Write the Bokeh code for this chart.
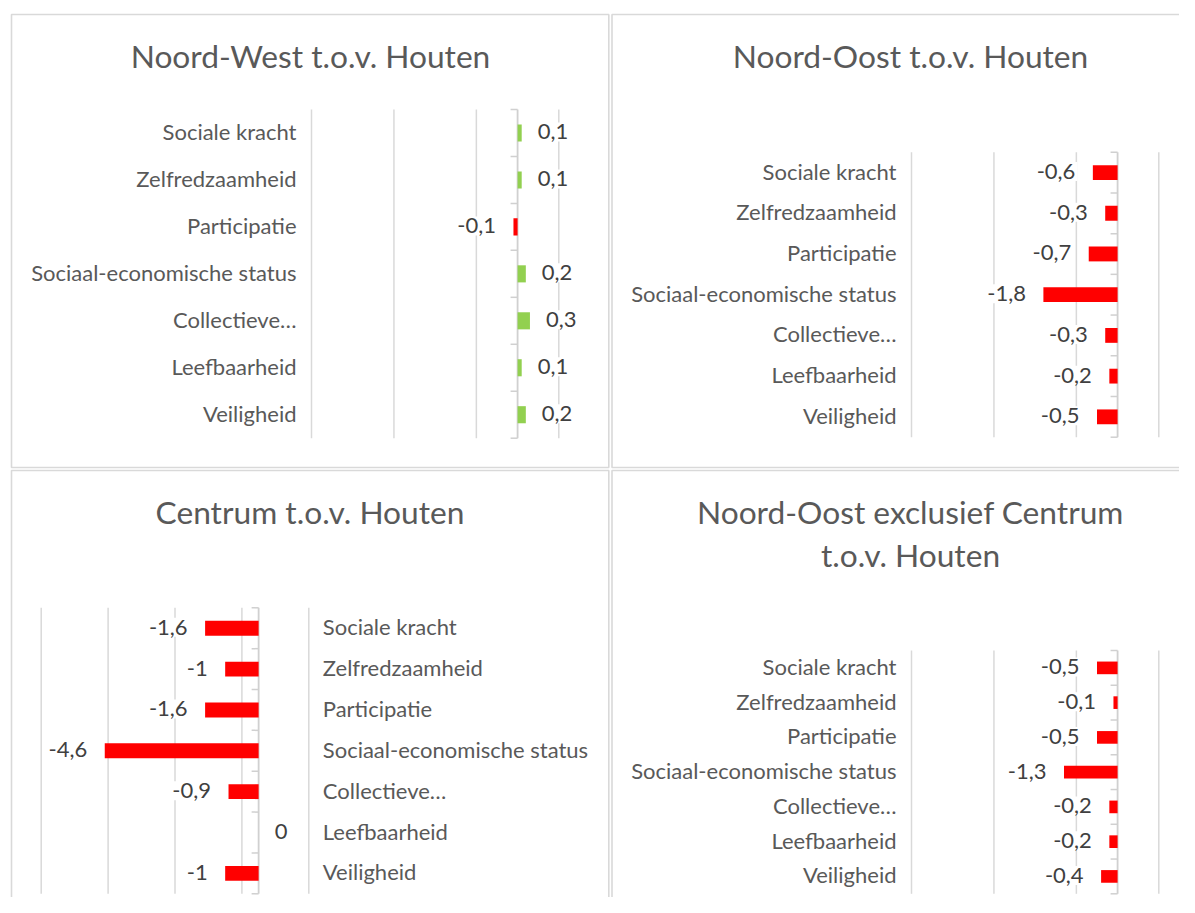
from bokeh.plotting import figure
from bokeh.models import ColumnDataSource, Range1d
from bokeh.core.properties import value
from bokeh.embed import file_html
from bokeh.resources import INLINE

# ---------------- data ----------------
categories = ["Sociale kracht", "Zelfredzaamheid", "Participatie",
              "Sociaal-economische status", "Collectieve…", "Leefbaarheid",
              "Veiligheid"]

titles = [["Noord-West t.o.v. Houten"],
          ["Noord-Oost t.o.v. Houten"],
          ["Centrum t.o.v. Houten"],
          ["Noord-Oost exclusief Centrum", "t.o.v. Houten"]]

noord_west = [0.1, 0.1, -0.1, 0.2, 0.3, 0.1, 0.2]
noord_oost = [-0.6, -0.3, -0.7, -1.8, -0.3, -0.2, -0.5]
centrum = [-1.6, -1, -1.6, -4.6, -0.9, 0, -1]
noord_oost_excl = [-0.5, -0.1, -0.5, -1.3, -0.2, -0.2, -0.4]

x_ranges = [(-5, 1), (-5, 1), (-6.5, 1.5), (-5, 1)]
grid_ticks = [[-5, -3, -1, 1], [-5, -3, -1, 1],
              [-6.5, -4.5, -2.5, -0.5, 1.5], [-5, -3, -1, 1]]

# ---------------- style / layout ----------------
W, H = 1179, 897
GREEN = "#92d050"
RED = "#ff0000"
FONT = "Lato"
GRID = "#d9d9d9"
AXIS = "#d0d0d0"

# plot-area boxes (left, right, top, bottom) in page pixels, label side,
# panel border box, title centre x and line centres
panels = [
    dict(values=noord_west, area=(311, 558.3, 109, 437.7), side="left",
         box=(11, 608.3, 14, 467), tx=310, tys=[55.3]),
    dict(values=noord_oost, area=(911, 1158.3, 151.7, 436.7), side="left",
         box=(611.5, 1209, 14, 467), tx=910, tys=[55.3]),
    dict(values=centrum, area=(40.7, 308.3, 607.3, 893.3), side="right",
         box=(11, 608.3, 470, 925), tx=309.5, tys=[511.7]),
    dict(values=noord_oost_excl, area=(911, 1158.3, 650, 893.3), side="left",
         box=(611.5, 1209, 470, 925), tx=910, tys=[511.7, 554.7]),
]

p = figure(width=W, height=H, output_backend="svg", toolbar_location=None,
           x_range=Range1d(0, W), y_range=Range1d(H, 0),
           x_axis_location=None, y_axis_location=None,
           min_border=0, min_border_left=0, min_border_right=0,
           min_border_top=0, min_border_bottom=0)
p.grid.visible = False
p.outline_line_color = None
p.background_fill_color = "white"
p.border_fill_color = "white"


def fmt(v):
    return f"{v:g}".replace(".", ",")


n = len(categories)
for i, spec in enumerate(panels):
    vals = spec["values"]
    a, b = x_ranges[i]
    L, R, T, B = spec["area"]
    ppu = (R - L) / (b - a)
    ppc = (B - T) / n
    xr, yr = f"x{i}", f"y{i}"
    p.extra_x_ranges[xr] = Range1d(a - L / ppu, b + (W - R) / ppu)
    p.extra_y_ranges[yr] = Range1d(n + (H - B) / ppc, -T / ppc)
    kw = dict(x_range_name=xr, y_range_name=yr)

    # panel border
    bl, br, bt, bb = spec["box"]
    p.quad(left=[bl], right=[br], top=[bt], bottom=[bb], fill_color=None,
           line_color=GRID, line_width=1.6)

    # vertical gridlines
    gt = grid_ticks[i]
    p.segment(x0=gt, x1=gt, y0=[0] * len(gt), y1=[n] * len(gt),
              line_color=GRID, line_width=1.5, **kw)

    # category axis at 0 with small ticks
    p.segment(x0=[0], x1=[0], y0=[0], y1=[n], line_color=AXIS, line_width=1.8, **kw)
    bounds = list(range(n + 1))
    tick_len = 7 / ppu
    p.segment(x0=[-tick_len] * len(bounds), x1=[0] * len(bounds), y0=bounds,
              y1=bounds, line_color=AXIS, line_width=1.5, **kw)

    ys = [k + 0.5 for k in range(n)]
    src = ColumnDataSource(dict(
        y=ys, v=vals, color=[GREEN if v > 0 else RED for v in vals],
        label=[fmt(v) for v in vals],
        align=["left" if v >= 0 else "right" for v in vals],
        off=[14 if v >= 0 else -15.5 for v in vals],
        cat=categories))

    p.hbar(y="y", left=0, right="v", height=0.364, fill_color="color",
           line_color=None, source=src, **kw)
    p.text(x="v", y="y", text="label", text_align="align", x_offset="off",
           y_offset=-1, text_baseline="middle", text_font=value(FONT),
           text_font_size="22px", text_color="#404040",
           background_fill_color="white", padding=2, source=src, **kw)

    # category labels (left or right of the plot area)
    if spec["side"] == "left":
        p.text(x=a, y="y", text="cat", text_align="right", x_offset=-15,
               y_offset=-1.5, text_baseline="middle", text_font=value(FONT),
               text_font_size="22px", text_color="#595959", source=src, **kw)
    else:
        p.text(x=b, y="y", text="cat", text_align="left", x_offset=14,
               y_offset=-1.5, text_baseline="middle", text_font=value(FONT),
               text_font_size="22px", text_color="#595959", source=src, **kw)

    # title
    lines = titles[i]
    p.text(x=[spec["tx"]] * len(lines), y=spec["tys"], text=lines,
           text_align="center", text_baseline="middle",
           text_font=value(FONT), text_font_size="31.7px", text_color="#595959")

with open("out.html", "w") as f:
    f.write(file_html(p, INLINE))
